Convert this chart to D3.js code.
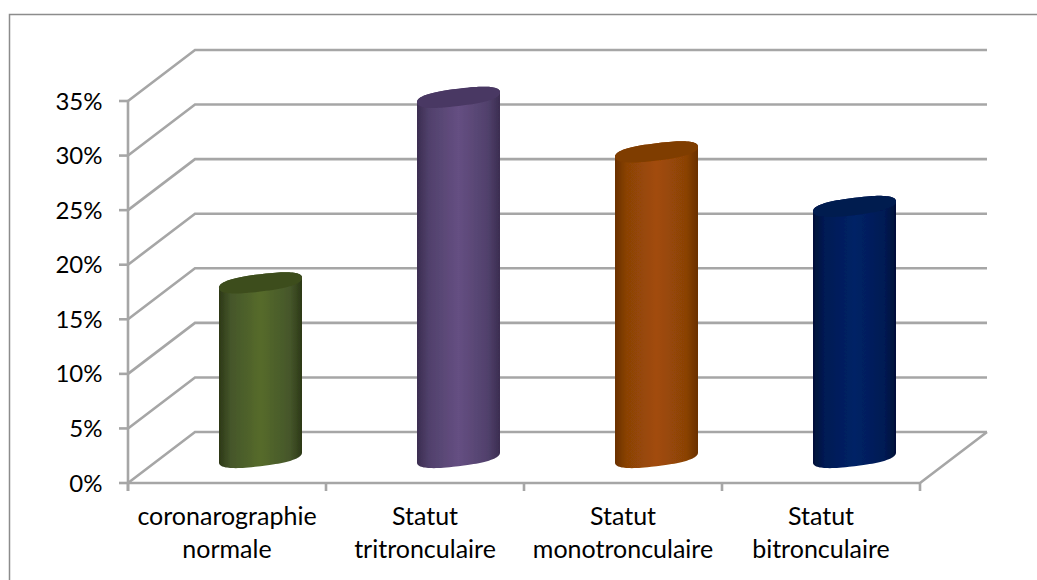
<!DOCTYPE html>
<html><head><meta charset="utf-8">
<script src="https://cdn.jsdelivr.net/npm/d3@7"></script>
<style>html,body{margin:0;padding:0;background:#fff}svg{display:block}text{font-family:Lato,"Open Sans",sans-serif;fill:#000}</style>
</head><body><svg id="c" width="1037" height="580"></svg>
<script>
const categories = [["coronarographie","normale"],["Statut","tritronculaire"],["Statut","monotronculaire"],["Statut","bitronculaire"]];
const values = [16, 33, 28, 23];
const ticks = [0, 5, 10, 15, 20, 25, 30, 35];
const shades = [
  ["#2c3816","#45562a","#566b2c","#3e4d1d"],
  ["#3b2d50","#50406b","#654f82","#4a3863"],
  ["#6a3104","#8a4206","#a24c08","#7f3c06"],
  ["#001038","#001a54","#002266","#001a50"]
];
const W = 1037, H = 580, depthX = 67, depthY = -51, gridColor = "#a6a6a6";
const svg = d3.select("#c");
const defs = svg.append("defs");
defs.append("filter").attr("id","soft").append("feGaussianBlur").attr("stdDeviation",0.7);
defs.append("filter").attr("id","softer").append("feGaussianBlur").attr("stdDeviation",0.35);
const x = d3.scaleBand().domain(d3.range(categories.length)).range([128, 920]);
const y = d3.scaleLinear().domain([0, 35]).range([483, 101]);

svg.append("path").attr("d", `M9.5,${H}V14.5H${W}`).attr("fill","none").attr("stroke","#8c8c8c").attr("stroke-width",1.5);

const grid = svg.append("g").attr("fill","none").attr("stroke",gridColor).attr("stroke-width",2.6).attr("filter","url(#softer)");
ticks.forEach(t => {
  grid.append("path").attr("d", d3.line()([
    [x.range()[0], y(t)],
    [x.range()[0] + depthX, y(t) + depthY],
    [x.range()[1] + depthX, y(t) + depthY]
  ]));
  grid.append("line").attr("x1",119).attr("x2",128).attr("y1",y(t)).attr("y2",y(t));
  svg.append("text").attr("x",102.5).attr("y",y(t)+8.5).attr("text-anchor","end").attr("font-size",24).text(t+"%");
});
grid.append("line").attr("x1",128).attr("x2",128).attr("y1",y(35)).attr("y2",491);
grid.append("path").attr("d", d3.line()([[128,y(0)],[920,y(0)],[920+depthX,y(0)+depthY]]));
x.domain().concat([categories.length]).forEach(i => {
  const px = i < categories.length ? x(i) : x.range()[1];
  grid.append("line").attr("x1",px).attr("x2",px).attr("y1",y(0)).attr("y2",491);
});

const ellipse = (cx, cy) => d3.range(0, 96).map(k => {
  const a = k / 96 * 2 * Math.PI;
  const c = Math.sign(Math.cos(a)) * Math.pow(Math.abs(Math.cos(a)), 0.75);
  const s = Math.sign(Math.sin(a)) * Math.pow(Math.abs(Math.sin(a)), 0.85);
  return [cx + 41.5 * c, cy - 5 * c - 8.66 * s];
});
const bars = svg.append("g").attr("filter","url(#soft)");
values.forEach((v, i) => {
  const cx = x(i) + x.bandwidth() / 2 + depthX / 2;
  const yTop = y(v) + depthY / 2, yBase = y(0) + depthY / 2;
  const s = shades[i];
  const g = defs.append("linearGradient").attr("id","g"+i);
  [[0,s[0]],[.14,s[1]],[.5,s[2]],[.86,s[1]],[1,s[0]]].forEach(d => g.append("stop").attr("offset",d[0]).attr("stop-color",d[1]));
  const hull = d3.polygonHull(ellipse(cx,yTop).concat(ellipse(cx,yBase)));
  bars.append("path").attr("d","M"+hull.join("L")+"Z").attr("fill",`url(#g${i})`);
  bars.append("path").attr("d","M"+ellipse(cx,yTop).join("L")+"Z").attr("fill",s[3]);
});

categories.forEach((lines, i) => {
  const cx = x(i) + x.bandwidth() / 2;
  lines.forEach((l, j) => svg.append("text").attr("x",cx).attr("y",525 + j * 33).attr("text-anchor","middle").attr("font-size",25).text(l));
});
</script></body></html>
